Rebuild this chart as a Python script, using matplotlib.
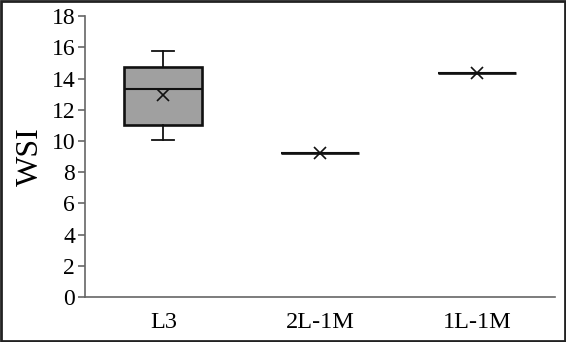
import matplotlib
matplotlib.use("Agg")
import matplotlib.pyplot as plt
from matplotlib.patches import Rectangle

plt.rcParams['font.family'] = ['Liberation Serif', 'DejaVu Serif']

groups = ['L3', '2L-1M', '1L-1M']
whislo = [10.05, 9.2, 14.38]
q1 = [11.05, 9.2, 14.38]
med = [13.3, 9.2, 14.38]
q3 = [14.75, 9.2, 14.38]
whishi = [15.78, 9.2, 14.38]
means = [12.97, 9.2, 14.38]

stats = []
for i in range(len(groups)):
    stats.append(dict(label=groups[i], whislo=whislo[i], q1=q1[i], med=med[i],
                      q3=q3[i], whishi=whishi[i], mean=means[i], fliers=[]))

fig = plt.figure(figsize=(5.66, 3.42), dpi=100)
ax = fig.add_axes([0.150, 0.1316, 0.831, 0.8214])

ax.bxp(stats, positions=[1, 2, 3], widths=0.5, patch_artist=True, showmeans=True,
       boxprops=dict(facecolor='#a0a0a0', edgecolor='#111111', linewidth=1.9),
       medianprops=dict(color='#111111', linewidth=1.5),
       whiskerprops=dict(color='#111111', linewidth=1.3),
       capprops=dict(color='#111111', linewidth=1.3),
       capwidths=0.14,
       meanprops=dict(marker='x', markeredgecolor='#111111', markersize=8, markeredgewidth=1.2))

ax.set_xlim(0.5, 3.5)
ax.set_ylim(0, 18)
ax.set_yticks(range(0, 19, 2))
ax.set_ylabel('WSI', fontsize=23, labelpad=5)
ax.spines['top'].set_visible(False)
ax.spines['right'].set_visible(False)
for s in ['left', 'bottom']:
    ax.spines[s].set_color('#666666')
    ax.spines[s].set_linewidth(1.2)
ax.tick_params(axis='y', labelsize=17, color='#666666', length=5, width=1.2, pad=2)
ax.tick_params(axis='x', labelsize=17.5, length=0, pad=11)

fig.patches.append(Rectangle((0.002, 0.003), 0.996, 0.994, transform=fig.transFigure,
                             fill=False, edgecolor='#222222', linewidth=2))

fig.savefig('out.png', dpi=100)
